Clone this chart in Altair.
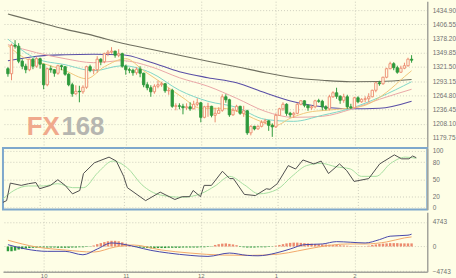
import altair as alt
import pandas as pd

# ---------------- data ----------------
opens = [1318,1308,1365,1363,1333,1323,1316,1337,1323,1338,
         1327,1286,1318,1316,1309,1324,1322,1307,1286,1268,
         1273,1272,1281,1322,1315,1316,1337,1332,1348,1351,
         1353,1345,1348,1323,1316,1315,1310,1317,1309,1286,
         1280,1272,1283,1286,1288,1274,1275,1243,1244,1243,
         1240,1242,1238,1247,1250,1221,1242,1243,1225,1229,
         1235,1262,1256,1226,1235,1243,1229,1234,1190,1203,
         1198,1203,1211,1214,1205,1202,1225,1238,1247,1229,
         1226,1229,1247,1254,1245,1240,1242,1254,1253,1242,
         1238,1262,1270,1263,1255,1262,1242,1240,1260,1252,
         1257,1258,1262,1275,1290,1288,1301,1318,1328,1320,
         1311,1319,1324,1337]
highs = [1321,1368,1375,1369,1337,1328,1338,1339,1341,1340,
         1328,1320,1324,1317,1326,1326,1323,1309,1290,1285,
         1284,1285,1324,1326,1318,1343,1339,1350,1355,1361,
         1354,1357,1350,1326,1320,1318,1321,1323,1310,1291,
         1285,1287,1294,1292,1289,1280,1278,1249,1249,1248,
         1249,1251,1254,1259,1252,1244,1250,1244,1240,1241,
         1267,1267,1258,1240,1246,1244,1244,1236,1205,1204,
         1205,1215,1218,1215,1209,1229,1240,1251,1249,1232,
         1232,1250,1255,1255,1247,1245,1256,1258,1256,1245,
         1266,1273,1280,1265,1268,1266,1248,1262,1263,1259,
         1263,1269,1276,1292,1294,1302,1320,1332,1331,1324,
         1324,1330,1340,1345]
lows = [1302,1295,1358,1329,1317,1309,1313,1317,1320,1318,
        1277,1283,1310,1302,1306,1315,1304,1283,1262,1266,
        1251,1268,1278,1311,1307,1310,1325,1329,1343,1348,
        1340,1341,1320,1306,1309,1304,1306,1301,1281,1275,
        1262,1268,1279,1282,1270,1266,1240,1235,1237,1227,
        1236,1234,1237,1243,1211,1219,1222,1221,1211,1228,
        1232,1250,1222,1224,1232,1226,1222,1186,1185,1195,
        1196,1201,1207,1194,1182,1200,1224,1234,1224,1221,
        1220,1227,1245,1241,1234,1236,1239,1250,1235,1235,
        1235,1260,1258,1248,1250,1238,1238,1238,1249,1250,
        1251,1251,1261,1271,1284,1286,1299,1317,1315,1308,
        1310,1317,1322,1330]
closes = [1308,1365,1363,1333,1323,1316,1337,1323,1338,1327,
          1286,1318,1316,1309,1324,1322,1307,1286,1268,1273,
          1272,1281,1322,1315,1316,1337,1332,1348,1351,1353,
          1345,1348,1323,1316,1315,1310,1317,1309,1286,1280,
          1272,1283,1286,1288,1274,1275,1243,1244,1243,1240,
          1242,1238,1247,1250,1221,1242,1243,1225,1229,1235,
          1262,1256,1226,1235,1243,1229,1234,1190,1203,1198,
          1203,1211,1214,1205,1202,1225,1238,1247,1229,1226,
          1229,1247,1254,1245,1240,1242,1254,1253,1242,1238,
          1262,1270,1263,1255,1262,1242,1240,1260,1252,1257,
          1258,1262,1275,1290,1288,1301,1318,1328,1320,1311,
          1319,1324,1337,1335]

month_idx = [10, 33, 54, 75, 97]
month_labels = ["10", "11", "12", "1", "2"]

price_ticks = [1179.75, 1208.10, 1236.45, 1264.80, 1293.15,
               1321.50, 1349.85, 1378.20, 1406.55, 1434.90]
stoch_ticks = [0, 20, 50, 80, 100]
macd_ticks = [-4743, 0, 4743]

# moving averages (read at a few bars)
ma_idx = [0, 8, 16, 24, 32, 40, 48, 56, 64, 72, 80, 88, 96, 104, 113]
ma_long = [1427, 1412, 1397, 1384, 1369, 1357, 1345, 1333, 1322, 1310,
           1300, 1295, 1292, 1292.5, 1296.5]
ma_purple = [1334, 1343, 1346, 1347, 1346, 1331, 1312, 1300, 1290, 1270,
             1252, 1242, 1238, 1239, 1253]
ma_pink = [1366, 1350, 1338, 1330, 1334, 1322, 1300, 1283, 1259, 1233,
           1221, 1223, 1237, 1257, 1277]
ma_teal = [1377, 1338, 1326, 1314, 1324, 1310, 1275, 1253, 1241, 1217,
           1213, 1225, 1239, 1261, 1292]
fast_idx = [0, 5, 11, 16, 22, 27, 33, 38, 43, 49, 54, 60, 65, 70, 75, 79,
            84, 89, 95, 100, 106, 111, 113]
ma_fast = [1364, 1338, 1326, 1314, 1298, 1322, 1338, 1314, 1290, 1260, 1239,
           1239, 1231, 1215, 1205, 1219, 1231, 1235, 1239, 1245, 1271, 1302, 1314]

# stochastic
stoch_k_idx = [0,1,2,5,7,9,10,13,15,17,19,21,22,25,29,31,33,34,39,43,
               47,49,51,52,54,55,57,60,62,63,66,69,72,73,75,78,80,82,85,87,
               89,92,94,96,100,103,107,109,111,112,113]
stoch_k = [9,12,43,39,42,44,33,39,49,39,24,30,60,79,89,82,55,35,12,27,
           14,19,19,30,19,39,39,64,51,51,23,21,33,32,42,74,68,84,77,82,
           60,77,65,46,51,77,93,86,86,91,88]
stoch_d_idx = [0,3,7,11,15,19,22,26,30,34,38,43,49,54,58,62,66,70,75,79,
               83,87,91,95,98,102,106,110,113]
stoch_d = [15,30,38,38,42,35,35,62,82,70,40,22,18,24,38,55,40,24,32,55,
           74,78,72,68,55,55,78,89,87]

# MACD
macd_dif_idx = [0,5,11,16,21,25,29,33,36,40,45,51,56,62,67,70,75,79,83,88,
                92,96,100,104,107,112,113]
macd_dif = [351,-488,-937,-937,-1600,-488,683,351,-98,-742,-1269,-1718,-1913,
            -1269,-1718,-1796,-1269,-488,351,488,937,820,683,1327,1991,2186,2381]
macd_dea_idx = [0,8,16,24,30,35,43,51,60,68,76,81,87,95,100,106,111,113]
macd_dea = [1210,-98,-683,-1074,-98,293,-683,-1269,-1659,-1718,-1464,-878,
            -98,488,488,878,1659,1854]
macd_hist = [-900,-900,-800,-600,-500,-400,
             -300,-250,-250,-200,-200,-200,-200,-200,-250,-250,-250,-250,-200,-200,-150,-150,-100,-50,
             200,450,650,850,1000,1100,1100,1000,800,550,
             300,100,
             -100,-200,-250,-300,-350,-350,-300,-300,-300,-250,-250,-250,-250,-200,-200,-200,-200,-200,-150,-150,-100,-50,
             300,450,550,600,500,400,250,
             -100,-150,-200,-200,-200,-150,-150,-150,-100,-50,
             150,300,450,600,700,750,750,700,650,600,550,500,450,400,380,350,300,300,250,200,150,100,
             50,50,50,50,150,
             300,400,500,550,600,650,650,650,600,600,600,600]

# ---------------- tables ----------------
N = len(closes)
candles = pd.DataFrame({"i": list(range(N)), "o": opens, "h": highs, "l": lows, "c": closes})
candles["dir"] = ["up" if c >= o else "down" for o, c in zip(opens, closes)]

ma_df = pd.DataFrame({"i": ma_idx, "long": ma_long, "purple": ma_purple,
                      "pink": ma_pink, "teal": ma_teal})
fast_df = pd.DataFrame({"i": fast_idx, "v": ma_fast})
k_df = pd.DataFrame({"i": stoch_k_idx, "v": stoch_k})
d_df = pd.DataFrame({"i": stoch_d_idx, "v": stoch_d})
dif_df = pd.DataFrame({"i": macd_dif_idx, "v": macd_dif})
dea_df = pd.DataFrame({"i": macd_dea_idx, "v": macd_dea})
hist_df = pd.DataFrame({"i": list(range(N)), "v": macd_hist})
hist_df["sign"] = ["pos" if v >= 0 else "neg" for v in macd_hist]

# ---------------- style ----------------
BG = "#fefee6"
UP = "#ec8a6e"
DOWN = "#2e9a3c"
GRID = "#cdcdbd"
EDGE = "#a4a49c"
LABEL = "#707070"
FONT = "Liberation Sans"

W = 428
H_PRICE, H_STOCH, H_MACD = 147, 62, 60

xscale = alt.Scale(domain=[0, 116], nice=False, zero=False)
pscale = alt.Scale(domain=[1161.9, 1452.7], nice=False, zero=False)
sscale = alt.Scale(domain=[-3.5, 105.3], nice=False, zero=False)
mscale = alt.Scale(domain=[-4900, 6597], nice=False, zero=False)

x_hidden = alt.Axis(values=month_idx, labels=False, ticks=False, domain=False,
                    grid=True, title=None, minExtent=0, maxExtent=0)
label_expr = " : ".join(f"datum.value == {v} ? '{t}'" for v, t in zip(month_idx, month_labels)) + " : ''"
x_bottom = alt.Axis(values=month_idx, labelExpr=label_expr, ticks=False, domain=True,
                    domainColor=EDGE, domainWidth=1.5, grid=True, title=None,
                    labelPadding=1, labelFontSize=6)


def y_axis(values, fmt):
    return alt.Axis(orient="right", values=values, format=fmt, ticks=False, domain=True,
                    domainColor=EDGE, domainWidth=1.5, grid=True, title=None,
                    labelPadding=5, minExtent=28, maxExtent=28, labelFontSize=6.5)


def X(axis):
    return alt.X("i:Q", scale=xscale, axis=axis)


# ---------------- price panel ----------------
py = y_axis(price_ticks, ".2f")
wick = alt.Chart(candles).mark_rule(strokeWidth=1).encode(
    x=X(x_hidden), y=alt.Y("l:Q", scale=pscale, axis=py), y2="h:Q",
    color=alt.Color("dir:N", scale=alt.Scale(domain=["up", "down"], range=[UP, DOWN]), legend=None))
body = alt.Chart(candles).mark_bar(size=2.4, strokeWidth=0.9).encode(
    x=X(x_hidden), y=alt.Y("o:Q", scale=pscale, axis=py), y2="c:Q",
    fill=alt.Fill("dir:N", scale=alt.Scale(domain=["up", "down"], range=[BG, DOWN]), legend=None),
    stroke=alt.Stroke("dir:N", scale=alt.Scale(domain=["up", "down"], range=[UP, DOWN]), legend=None))


def ma_line(df, field, color, width=1.0):
    return alt.Chart(df).mark_line(color=color, strokeWidth=width, interpolate="monotone").encode(
        x=X(x_hidden), y=alt.Y(f"{field}:Q", scale=pscale, axis=py))


lines = [
    ma_line(ma_df, "long", "#6f6f60", 1.1),
    ma_line(ma_df, "purple", "#5a4fa6", 1.1),
    ma_line(ma_df, "pink", "#e9a6a6"),
    ma_line(ma_df, "teal", "#7fd6c6"),
    ma_line(fast_df, "v", "#f0c67a"),
]

wm1 = alt.Chart(pd.DataFrame({"t": ["FX"]})).mark_text(
    font=FONT, fontSize=26, fontWeight="bold", color="#f0a98c", align="left", baseline="alphabetic"
).encode(text="t:N", x=alt.value(24), y=alt.value(135))
wm2 = alt.Chart(pd.DataFrame({"t": ["168"]})).mark_text(
    font=FONT, fontSize=26, fontWeight="bold", color="#b6b6b0", align="left", baseline="alphabetic"
).encode(text="t:N", x=alt.value(59), y=alt.value(135))

price = alt.layer(wm1, wm2, *lines, wick, body).properties(width=W, height=H_PRICE)

# ---------------- stochastic panel ----------------
sy = y_axis(stoch_ticks, "d")
kline = alt.Chart(k_df).mark_line(color="#4e4e4e", strokeWidth=1).encode(
    x=X(x_hidden), y=alt.Y("v:Q", scale=sscale, axis=sy))
dline = alt.Chart(d_df).mark_line(color="#a6dea0", strokeWidth=1, interpolate="monotone").encode(
    x=X(x_hidden), y=alt.Y("v:Q", scale=sscale, axis=sy))
stoch = alt.layer(dline, kline).properties(
    width=W, height=H_STOCH, view=alt.ViewBackground(stroke="#7ea8cc", strokeWidth=2))

# ---------------- MACD panel ----------------
my = y_axis(macd_ticks, "d")
hist = alt.Chart(hist_df).mark_bar(size=2.4).encode(
    x=X(x_bottom), y=alt.Y("v:Q", scale=mscale, axis=my), y2=alt.datum(0),
    color=alt.Color("sign:N", scale=alt.Scale(domain=["pos", "neg"], range=["#e32a2a", "#3cc43c"]), legend=None))
dif = alt.Chart(dif_df).mark_line(color="#4646aa", strokeWidth=1, interpolate="monotone").encode(
    x=X(x_bottom), y=alt.Y("v:Q", scale=mscale, axis=my))
dea = alt.Chart(dea_df).mark_line(color="#f2a86a", strokeWidth=1, interpolate="monotone").encode(
    x=X(x_bottom), y=alt.Y("v:Q", scale=mscale, axis=my))
macd = alt.layer(hist, dea, dif).properties(width=W, height=H_MACD)

chart = alt.vconcat(price, stoch, macd, spacing=0).properties(
    padding=0, background=BG
).configure_view(strokeWidth=0).configure_axis(
    labelFont=FONT, labelColor=LABEL, gridColor=GRID, gridDash=[1, 2], gridWidth=1
)

chart.save("out.html", embed_options={"renderer": "svg", "actions": False})
